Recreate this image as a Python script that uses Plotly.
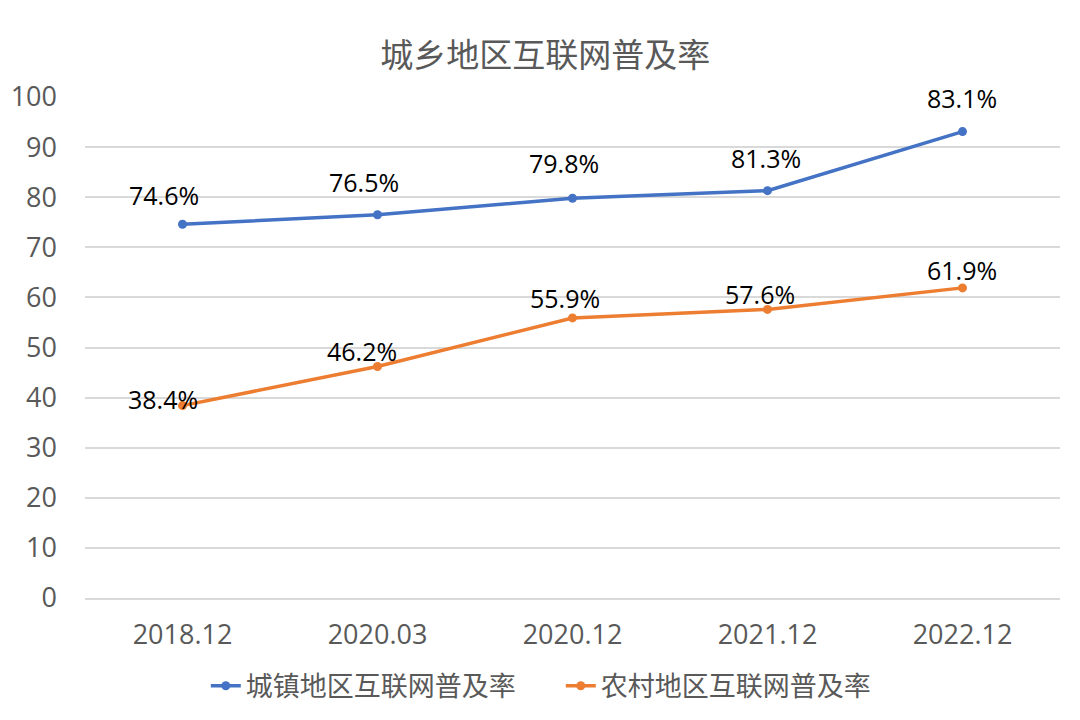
import plotly.graph_objects as go

# 数据
periods = ['2018.12', '2020.03', '2020.12', '2021.12', '2022.12']
urban_rate = [74.6, 76.5, 79.8, 81.3, 93.1]
urban_labels = ['74.6%', '76.5%', '79.8%', '81.3%', '83.1%']
rural_rate = [38.4, 46.2, 55.9, 57.6, 61.9]
rural_labels = ['38.4%', '46.2%', '55.9%', '57.6%', '61.9%']

FONT = 'Open Sans, Noto Sans CJK SC'
GRAY = '#595959'
BLUE = '#4472C4'
ORANGE = '#ED7D31'

fig = go.Figure()
fig.add_trace(go.Scatter(x=periods, y=urban_rate, name='城镇地区互联网普及率',
                         mode='lines+markers',
                         line=dict(color=BLUE, width=3.5),
                         marker=dict(color=BLUE, size=9)))
fig.add_trace(go.Scatter(x=periods, y=rural_rate, name='农村地区互联网普及率',
                         mode='lines+markers',
                         line=dict(color=ORANGE, width=3.5),
                         marker=dict(color=ORANGE, size=9)))

# 数据标签 (类别轴上的注释用序号定位, 因为 "2018.12" 会被当成数字)
urban_shift = [(-19, 29), (-14, 33), (-9, 35), (-2, 33), (-1, 34)]
rural_shift = [(-20, 7), (-16, 16), (-8, 20), (-8, 15), (-1, 18)]
for ys, labels, shifts in [(urban_rate, urban_labels, urban_shift),
                           (rural_rate, rural_labels, rural_shift)]:
    for i, (y, t, (dx, dy)) in enumerate(zip(ys, labels, shifts)):
        fig.add_annotation(x=i, y=y, xref='x', yref='y', text=t, showarrow=False,
                           xshift=dx, yshift=dy,
                           font=dict(family=FONT, size=25, color='#000000'))

# 页面 body 有 8px 边距, 所以图尺寸比窗口小 16px
fig.update_layout(
    width=1064, height=704,
    paper_bgcolor='white', plot_bgcolor='white',
    margin=dict(l=77, r=12, t=89, b=114, autoexpand=False),
    title=dict(text='城乡地区互联网普及率', x=0.505, xanchor='center',
               y=1 - 47 / 704, yanchor='middle',
               font=dict(family=FONT, size=33, color=GRAY)),
    legend=dict(orientation='h', x=0.488, xanchor='center',
                y=-0.176, yanchor='middle',
                font=dict(family=FONT, size=27, color=GRAY),
                itemwidth=30, entrywidth=310, traceorder='normal'),
    showlegend=True,
)
fig.update_xaxes(type='category', range=[-0.5, 4.5], showgrid=False,
                 showline=True, linecolor='#D9D9D9', linewidth=1.5,
                 ticks='', ticklabelstandoff=12, automargin=False,
                 tickfont=dict(family=FONT, size=27, color=GRAY))
fig.update_yaxes(range=[0, 100], dtick=10, showgrid=True, gridcolor='#D9D9D9',
                 gridwidth=1.5, zeroline=False, ticks='',
                 ticklabelstandoff=27, automargin=False,
                 tickfont=dict(family=FONT, size=27, color=GRAY))

fig.write_html('out.html')
